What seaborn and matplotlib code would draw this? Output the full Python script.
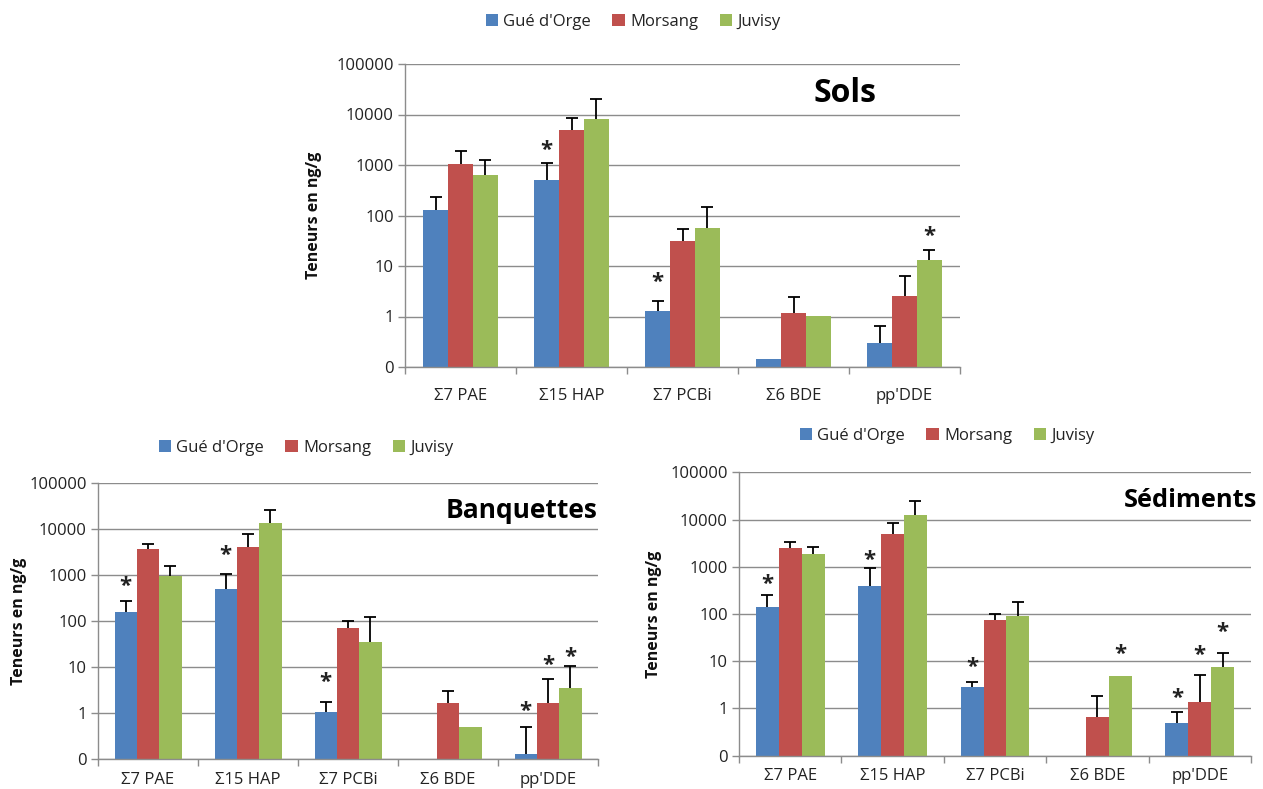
import numpy as np
import pandas as pd
import matplotlib
matplotlib.use("Agg")
import matplotlib.pyplot as plt
import seaborn as sns
from matplotlib.ticker import FixedLocator, NullLocator
from matplotlib.patches import Patch
from matplotlib.container import BarContainer

sns.set_theme(style="white")
plt.rcParams["font.family"] = ["Open Sans", "DejaVu Sans"]

nan = np.nan
categories = ["Σ7 PAE", "Σ15 HAP", "Σ7 PCBi", "Σ6 BDE", "pp'DDE"]
sites = ["Gué d'Orge", "Morsang", "Juvisy"]
colors = ["#4F81BD", "#C0504D", "#9BBB59"]
y_ticks = [0.1, 1, 10, 100, 1000, 10000, 100000]
y_tick_labels = ["0", "1", "10", "100", "1000", "10000", "100000"]

# ---- Sols ----
sols_gue = [126, 505, 1.27, 0.144, 0.297]
sols_morsang = [1060, 4875, 31.3, 1.19, 2.5]
sols_juvisy = [624, 8150, 55.6, 1.01, 13.0]
sols_gue_top = [237, 1109, 2.0, nan, 0.64]
sols_morsang_top = [1870, 8530, 54.7, 2.47, 6.2]
sols_juvisy_top = [1250, 20200, 148, nan, 20.5]
sols_stars = [(1, 0, 2323), (2, 0, 5.66), (4, 2, 47)]

# ---- Banquettes ----
banq_gue = [161, 502, 1.04, nan, 0.126]
banq_morsang = [3730, 4200, 72.3, 1.68, 1.68]
banq_juvisy = [964, 13970, 35.2, 0.506, 3.45]
banq_gue_top = [270, 1084, 1.74, nan, 0.506]
banq_morsang_top = [4710, 8050, 99, 2.97, 5.52]
banq_juvisy_top = [1620, 26400, 123, nan, 10.4]
banq_stars = [(0, 0, 702), (1, 0, 3266), (2, 0, 5.7), (4, 0, 1.31), (4, 1, 13.6), (4, 2, 20)]

# ---- Sédiments ----
sed_gue = [140.5, 385, 2.8, nan, 0.5]
sed_morsang = [2490, 4850, 73.3, 0.65, 1.35]
sed_juvisy = [1890, 12250, 89, 4.78, 7.66]
sed_gue_top = [256, 955, 3.57, nan, 0.84]
sed_morsang_top = [3400, 8570, 99.8, 1.83, 5.0]
sed_juvisy_top = [2580, 25000, 182, nan, 14.7]
sed_stars = [(0, 0, 524), (1, 0, 1633), (2, 0, 9.0), (3, 2, 17.3), (4, 0, 2.0), (4, 1, 16.4), (4, 2, 49.6)]

GRID = "#8C8C8C"
W, H = 1263, 789
fig = plt.figure(figsize=(W / 100, H / 100), dpi=100)


def px_axes(l, t, r, b):
    return fig.add_axes([l / W, 1 - b / H, (r - l) / W, (b - t) / H])


def panel(ax, vals, tops, stars, title, title_xy, title_size, ylab_x, legend_xy, xpad):
    rows = []
    for si, s in enumerate(sites):
        for ci, c in enumerate(categories):
            v = vals[si][ci]
            if np.isfinite(v):
                rows.append({"cat": c, "site": s, "val": v})
    df = pd.DataFrame(rows)
    ax.set_yscale("log")
    sns.barplot(data=df, x="cat", y="val", hue="site", order=categories,
                hue_order=sites, palette=colors, width=0.67, saturation=1,
                errorbar=None, legend=False, linewidth=0, ax=ax, zorder=2)
    bar_conts = [c for c in ax.containers if isinstance(c, BarContainer)]
    centers = {}
    for si, cont in enumerate(bar_conts):
        for bar in cont.patches:
            h = bar.get_height()
            if not np.isfinite(h) or h <= 0:
                continue
            xc = bar.get_x() + bar.get_width() / 2
            ci = int(round(xc))
            centers[(ci, si)] = (xc, h)
    for (ci, si), (xc, h) in centers.items():
        top = tops[si][ci]
        if np.isfinite(top):
            _, caps, _ = ax.errorbar([xc], [h], yerr=[[0], [top - h]], fmt="none",
                                     ecolor="black", elinewidth=1.3, capsize=4,
                                     capthick=1.3, zorder=3)
            if len(caps) > 1:
                caps[0].set_visible(False)
    for ci, si, y in stars:
        ax.annotate("*", (centers[(ci, si)][0], y), xytext=(0, -3), textcoords="offset points",
                    ha="center", va="center", fontsize=16, fontweight="bold",
                    color="#222222", zorder=4)
    ax.set_xlim(-0.5, 4.5)
    ax.set_ylim(0.1, 100000)
    ax.yaxis.set_major_locator(FixedLocator(y_ticks))
    ax.set_yticklabels(y_tick_labels)
    ax.yaxis.set_minor_locator(NullLocator())
    ax.xaxis.set_minor_locator(FixedLocator(np.arange(-0.5, 5, 1)))
    ax.tick_params(axis="x", which="major", length=0, labelsize=12, pad=xpad, colors="#222222")
    ax.tick_params(axis="x", which="minor", length=5, width=1, color=GRID, direction="out", bottom=True)
    ax.tick_params(axis="y", which="major", length=5, width=1, color=GRID, direction="out",
                   left=True, labelsize=12, labelcolor="#222222", pad=3)
    ax.set_xlabel("")
    ax.set_ylabel("Teneurs en ng/g", fontsize=11.5, fontweight="bold", color="#111111")
    ax.yaxis.set_label_coords(ylab_x, 0.5)
    ax.grid(axis="y", color=GRID, linewidth=1, zorder=0)
    ax.set_axisbelow(True)
    for sp in ["top", "right"]:
        ax.spines[sp].set_visible(False)
    for sp in ["left", "bottom"]:
        ax.spines[sp].set_color(GRID)
        ax.spines[sp].set_linewidth(1)
    ax.set_facecolor("white")
    ax.text(title_xy[0], title_xy[1], title, transform=ax.transAxes, ha="center", va="center",
            fontsize=title_size, fontweight="bold", color="black")
    handles = [Patch(facecolor=c, edgecolor="none", label=s) for c, s in zip(colors, sites)]
    fig.legend(handles=handles, loc="center", bbox_to_anchor=legend_xy, ncol=3, frameon=False,
               fontsize=12, handlelength=0.75, handleheight=0.75, handletextpad=0.3,
               columnspacing=1.3, labelcolor="#222222")


ax1 = px_axes(405, 64, 960, 367)
panel(ax1, [sols_gue, sols_morsang, sols_juvisy],
      [sols_gue_top, sols_morsang_top, sols_juvisy_top], sols_stars,
      "Sols", (0.793, 0.904), 23, -0.150, (633 / W, 1 - 22 / H), 15)

ax2 = px_axes(98, 483.3, 598, 759)
panel(ax2, [banq_gue, banq_morsang, banq_juvisy],
      [banq_gue_top, banq_morsang_top, banq_juvisy_top], banq_stars,
      "Banquettes", (0.848, 0.903), 19, -0.142, (306 / W, 1 - 448 / H), 9)

ax3 = px_axes(739, 472.3, 1251, 755.7)
panel(ax3, [sed_gue, sed_morsang, sed_juvisy],
      [sed_gue_top, sed_morsang_top, sed_juvisy_top], sed_stars,
      "Sédiments", (0.881, 0.902), 18.3, -0.150, (947 / W, 1 - 436 / H), 9)

fig.savefig("out.png", dpi=100, facecolor="white")
